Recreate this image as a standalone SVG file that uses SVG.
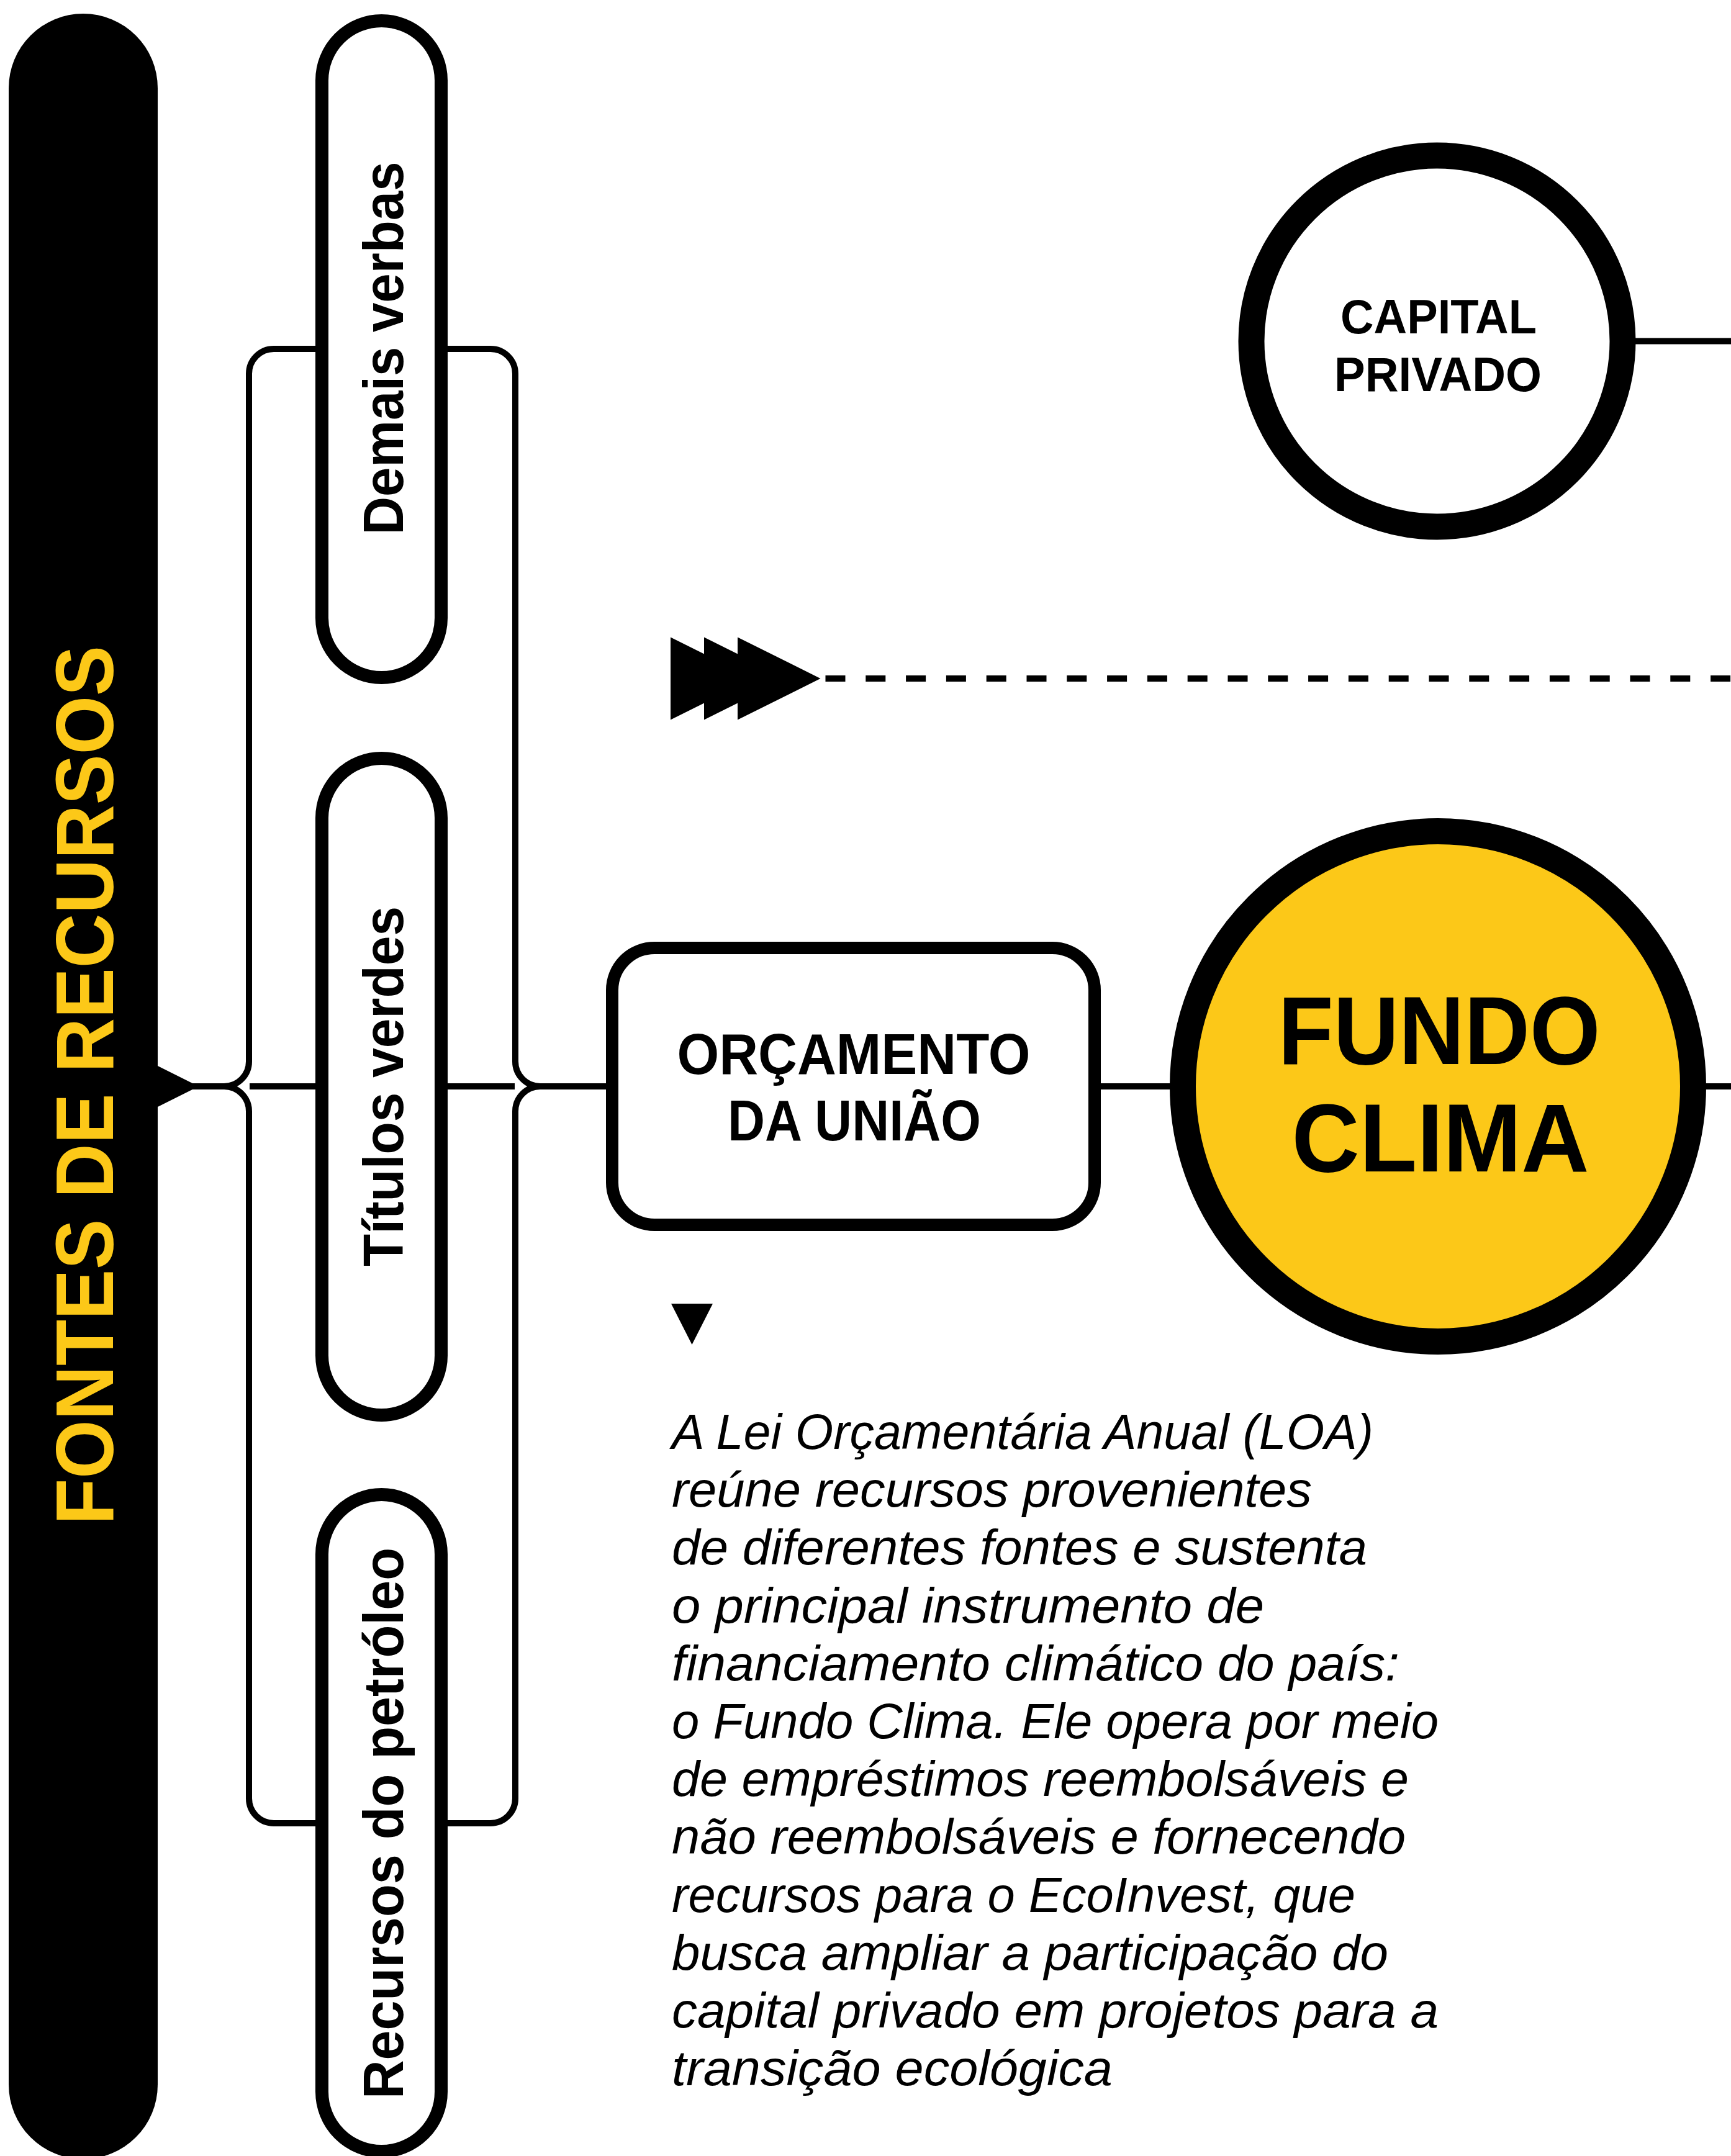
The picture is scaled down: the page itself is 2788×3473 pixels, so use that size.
<svg xmlns="http://www.w3.org/2000/svg" width="2788" height="3473" viewBox="0 0 2788 3473">
<defs>
<style>
.bg{fill:#ffffff}
.pill{fill:#ffffff;stroke:#000;stroke-width:21}
.box{fill:#ffffff;stroke:#000;stroke-width:20}
.ring{stroke:#000;stroke-width:42}
.ln{fill:none;stroke:#000;stroke-width:10;stroke-linecap:butt}
.dash{fill:none;stroke:#000;stroke-width:10;stroke-dasharray:32 32.8}
.lbl{font-family:"Liberation Sans",Arial,sans-serif;font-weight:700;fill:#000}
.para{font-family:"Liberation Sans",Arial,sans-serif;font-style:italic;font-size:80px;fill:#000}
</style>
</defs>
<rect class="bg" x="0" y="0" width="2788" height="3473"/>

<g id="connectors">
<path class="ln" d="M508 562 H441 A40 40 0 0 0 401 602 V1710 A40 40 0 0 1 361 1750"/>
<path class="ln" d="M361 1750 A40 40 0 0 1 401 1790 V2897 A40 40 0 0 0 441 2937 H508"/>
<path class="ln" d="M721 562 H790 A40 40 0 0 1 830 602 V1710 A40 40 0 0 0 870 1750"/>
<path class="ln" d="M870 1750 A40 40 0 0 0 830 1790 V2897 A40 40 0 0 1 790 2937 H721"/>
<polygon points="254,1717 254,1783 320,1750" fill="#000"/>
<path class="ln" d="M300 1750 H366"/>
<path class="ln" d="M402 1750 H510"/>
<path class="ln" d="M719 1750 H829"/>
<path class="ln" d="M865 1750 H978"/>
<path class="ln" d="M1771 1750 H1887"/>
<path class="ln" d="M2745 1750 H2788"/>
<path class="ln" d="M2632 549.5 H2788"/>
<g id="triple-arrow" fill="#000">
<polygon points="1080,1026.5 1080,1159.5 1213.5,1093"/>
<polygon points="1134,1026.5 1134,1159.5 1267.5,1093"/>
<polygon points="1188,1026.5 1188,1159.5 1321.5,1093"/>
</g>
<path class="dash" d="M1329.5 1093 H2788"/>
<polygon points="1081,2100 1148,2100 1114.5,2166" fill="#000"/>
</g>

<g id="fontes">
<rect x="14" y="22" width="240" height="3456" rx="120" fill="#000"/>
<text class="lbl" font-size="131" fill="#FCC818" style="fill:#FCC818" text-anchor="middle" textLength="1416" lengthAdjust="spacingAndGlyphs" transform="translate(182,1748) rotate(-90)">FONTES DE RECURSOS</text>
</g>

<g id="demais-verbas">
<rect class="pill" x="518.5" y="33.5" width="192" height="1058" rx="96"/>
<text class="lbl" font-size="90" text-anchor="middle" textLength="601" lengthAdjust="spacingAndGlyphs" transform="translate(649,561) rotate(-90)">Demais verbas</text>
</g>

<g id="titulos-verdes">
<rect class="pill" x="518.5" y="1221.5" width="192" height="1058" rx="96"/>
<text class="lbl" font-size="90" text-anchor="middle" textLength="580" lengthAdjust="spacingAndGlyphs" transform="translate(649,1750) rotate(-90)">Títulos verdes</text>
</g>

<g id="recursos-petroleo">
<rect class="pill" x="518.5" y="2407.5" width="192" height="1058" rx="96"/>
<text class="lbl" font-size="90" text-anchor="middle" textLength="888" lengthAdjust="spacingAndGlyphs" transform="translate(649,2937) rotate(-90)">Recursos do petróleo</text>
</g>

<g id="orcamento">
<rect class="box" x="986" y="1527" width="777" height="446" rx="68"/>
<text class="lbl" font-size="92" text-anchor="middle" x="1375" y="1730" textLength="569" lengthAdjust="spacingAndGlyphs">ORÇAMENTO</text>
<text class="lbl" font-size="92" text-anchor="middle" x="1376" y="1837" textLength="408" lengthAdjust="spacingAndGlyphs">DA UNIÃO</text>
</g>

<g id="fundo-clima">
<circle class="ring" cx="2316" cy="1750" r="411" fill="#FCC818"/>
<text class="lbl" font-size="156" text-anchor="middle" x="2318" y="1714" textLength="519" lengthAdjust="spacingAndGlyphs">FUNDO</text>
<text class="lbl" font-size="156" text-anchor="middle" x="2320" y="1887" textLength="479" lengthAdjust="spacingAndGlyphs">CLIMA</text>
</g>

<g id="capital-privado">
<circle class="ring" cx="2314.5" cy="549.5" r="299" fill="#ffffff"/>
<text class="lbl" font-size="78" text-anchor="middle" x="2317" y="537" textLength="316" lengthAdjust="spacingAndGlyphs">CAPITAL</text>
<text class="lbl" font-size="78" text-anchor="middle" x="2316" y="630" textLength="334" lengthAdjust="spacingAndGlyphs">PRIVADO</text>
</g>

<g id="descricao">
<text class="para" x="1082" y="2334" textLength="1130" lengthAdjust="spacingAndGlyphs">A Lei Orçamentária Anual (LOA)</text>
<text class="para" x="1082" y="2427.2" textLength="1031" lengthAdjust="spacingAndGlyphs">reúne recursos provenientes</text>
<text class="para" x="1082" y="2520.4" textLength="1120" lengthAdjust="spacingAndGlyphs">de diferentes fontes e sustenta</text>
<text class="para" x="1082" y="2613.6" textLength="954" lengthAdjust="spacingAndGlyphs">o principal instrumento de</text>
<text class="para" x="1082" y="2706.8" textLength="1172" lengthAdjust="spacingAndGlyphs">financiamento climático do país:</text>
<text class="para" x="1082" y="2800" textLength="1235" lengthAdjust="spacingAndGlyphs">o Fundo Clima. Ele opera por meio</text>
<text class="para" x="1082" y="2893.2" textLength="1187" lengthAdjust="spacingAndGlyphs">de empréstimos reembolsáveis e</text>
<text class="para" x="1082" y="2986.4" textLength="1182" lengthAdjust="spacingAndGlyphs">não reembolsáveis e fornecendo</text>
<text class="para" x="1082" y="3079.6" textLength="1101" lengthAdjust="spacingAndGlyphs">recursos para o EcoInvest, que</text>
<text class="para" x="1082" y="3172.8" textLength="1154" lengthAdjust="spacingAndGlyphs">busca ampliar a participação do</text>
<text class="para" x="1082" y="3266" textLength="1235" lengthAdjust="spacingAndGlyphs">capital privado em projetos para a</text>
<text class="para" x="1082" y="3359.2" textLength="710" lengthAdjust="spacingAndGlyphs">transição ecológica</text>
</g>
</svg>
